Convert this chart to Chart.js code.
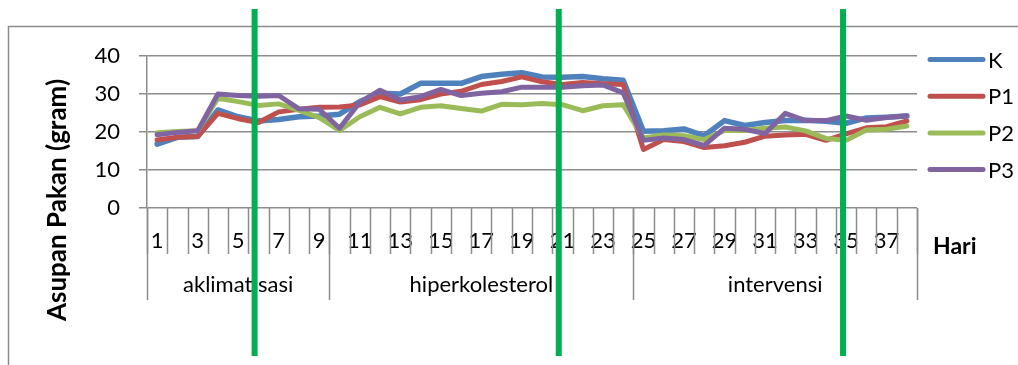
<!DOCTYPE html>
<html>
<head>
<meta charset="utf-8">
<script src="https://cdn.jsdelivr.net/npm/chart.js@4/dist/chart.umd.min.js"></script>
<style>
  html, body { margin: 0; padding: 0; background: #ffffff; }
  canvas { display: block; }
</style>
</head>
<body>
<canvas id="c" width="1018" height="365"></canvas>
<script>
// Days of observation (category axis)
const days = ['1','2','3','4','5','6','7','8','9','10','11','12','13','14','15','16','17','18','19',
              '20','21','22','23','24','25','26','27','28','29','30','31','32','33','34','35','36','37','38'];

// Study phases and how many days each one spans
const phaseNames = ['aklimatisasi', 'hiperkolesterol', 'intervensi'];
const phaseLengths = [9, 15, 14];

// Day positions of the green phase dividers
const dividerDays = [5.81, 20.82, 34.85];

// Feed intake (gram) per group
const seriesNames = ['K', 'P1', 'P2', 'P3'];
const intakeK  = [16.8, 18.6, 18.8, 25.8, 24.0, 22.9, 23.3, 24.0, 24.2, 24.7, 28.0, 30.2, 30.0, 32.8, 32.8, 32.8, 34.6, 35.2, 35.6,
                  34.5, 34.4, 34.6, 34.0, 33.6, 20.2, 20.3, 20.8, 19.0, 23.0, 21.7, 22.5, 23.0, 23.1, 22.8, 22.3, 23.7, 23.9, 24.2];
const intakeP1 = [17.9, 18.6, 18.8, 24.9, 23.5, 22.5, 25.3, 26.0, 26.5, 26.6, 27.1, 29.3, 27.9, 28.5, 30.0, 30.7, 32.5, 33.3, 34.5,
                  33.2, 32.5, 33.0, 32.7, 32.5, 15.4, 18.0, 17.5, 15.9, 16.4, 17.3, 18.9, 19.2, 19.4, 17.8, 19.5, 21.1, 21.4, 22.9];
const intakeP2 = [19.8, 20.1, 20.3, 28.9, 28.0, 27.0, 27.4, 25.7, 23.8, 20.4, 24.0, 26.5, 24.8, 26.5, 26.9, 26.2, 25.5, 27.3, 27.2,
                  27.5, 27.2, 25.6, 26.9, 27.2, 18.4, 19.2, 19.0, 18.0, 20.4, 20.4, 21.0, 21.3, 20.3, 18.3, 17.8, 20.5, 20.7, 21.6];
const intakeP3 = [19.3, 19.9, 20.3, 30.0, 29.6, 29.4, 29.6, 26.1, 26.0, 21.0, 27.8, 31.0, 28.4, 29.3, 31.2, 29.6, 30.2, 30.6, 31.8,
                  31.8, 31.8, 32.2, 32.4, 30.3, 17.8, 18.4, 18.0, 16.5, 21.0, 20.7, 19.6, 24.9, 23.0, 23.0, 24.2, 23.1, 23.8, 24.3];

const yTicks = [0, 10, 20, 30, 40];

const seriesColors = ['#4f81bd', '#c0504d', '#9bbb59', '#8064a2'];
const seriesData = [intakeK, intakeP1, intakeP2, intakeP3];

const FONT = 'Lato, "Open Sans", sans-serif';
const GRID = '#8c8c8c';

const decorations = {
  id: 'decorations',
  beforeDraw(chart) {
    const ctx = chart.ctx;
    ctx.save();
    ctx.strokeStyle = GRID;
    ctx.lineWidth = 1.5;
    ctx.strokeRect(8.5, 26.5, chart.width + 40, chart.height + 40);
    ctx.restore();
  },
  afterDraw(chart) {
    const ctx = chart.ctx;
    const xs = chart.scales.x;
    const area = chart.chartArea;
    const bottom = area.bottom;
    ctx.save();

    // category separators below the axis
    ctx.strokeStyle = GRID;
    ctx.lineWidth = 1.5;
    for (let i = 0; i <= days.length; i++) {
      const x = Math.round(xs.getPixelForValue(i - 0.5)) + 0.5;
      ctx.beginPath();
      ctx.moveTo(x, bottom);
      ctx.lineTo(x, bottom + 46);
      ctx.stroke();
    }
    // phase boundaries and phase names
    let start = 0;
    const bounds = [0];
    phaseLengths.forEach(n => { start += n; bounds.push(start); });
    bounds.forEach(b => {
      const x = Math.round(xs.getPixelForValue(b - 0.5)) + 0.5;
      ctx.beginPath();
      ctx.moveTo(x, bottom);
      ctx.lineTo(x, bottom + 92);
      ctx.stroke();
    });
    ctx.fillStyle = '#000';
    ctx.font = '22px ' + FONT;
    ctx.textAlign = 'center';
    ctx.textBaseline = 'middle';
    phaseNames.forEach((name, k) => {
      const x0 = xs.getPixelForValue(bounds[k] - 0.5);
      const x1 = xs.getPixelForValue(bounds[k + 1] - 0.5);
      ctx.fillText(name, (x0 + x1) / 2, bottom + 77);
    });

    // axis titles
    ctx.font = 'bold 23px ' + FONT;
    ctx.textAlign = 'left';
    ctx.fillText('Hari', area.right + 16, bottom + 39);
    ctx.save();
    ctx.translate(58, 200);
    ctx.rotate(-Math.PI / 2);
    ctx.textAlign = 'center';
    ctx.font = 'bold 26px ' + FONT;
    ctx.fillText('Asupan Pakan (gram)', 0, 0);
    ctx.restore();

    // legend
    ctx.font = '22px ' + FONT;
    ctx.textAlign = 'left';
    ctx.lineCap = 'round';
    chart.data.datasets.forEach((ds, k) => {
      const y = 59.5 + k * 36.7;
      ctx.strokeStyle = ds.borderColor;
      ctx.lineWidth = 5;
      ctx.beginPath();
      ctx.moveTo(area.right + 13, y);
      ctx.lineTo(area.right + 66, y);
      ctx.stroke();
      ctx.fillText(ds.label, area.right + 71, y + 1);
    });

    // green phase dividers
    ctx.strokeStyle = '#00b050';
    ctx.lineWidth = 6;
    ctx.lineCap = 'butt';
    dividerDays.forEach(d => {
      const x = xs.getPixelForValue(d - 1);
      ctx.beginPath();
      ctx.moveTo(x, 9);
      ctx.lineTo(x, 356);
      ctx.stroke();
    });
    ctx.restore();
  }
};

new Chart(document.getElementById('c'), {
  type: 'line',
  data: {
    labels: days,
    datasets: seriesNames.map((name, k) => ({
      label: name,
      data: seriesData[k],
      borderColor: seriesColors[k],
      backgroundColor: seriesColors[k],
      borderWidth: k === 0 ? 5.5 : 5,
      borderJoinStyle: 'round',
      borderCapStyle: 'round',
      pointRadius: 0,
      tension: 0,
      fill: false,
      order: seriesNames.length - k
    }))
  },
  options: {
    responsive: false,
    animation: false,
    devicePixelRatio: 1,
    layout: { padding: { left: 0, top: 56, right: 101, bottom: 0 } },
    plugins: { legend: { display: false }, tooltip: { enabled: false } },
    scales: {
      x: {
        type: 'category',
        offset: true,
        grid: { display: false, drawTicks: false },
        border: { display: false },
        ticks: {
          autoSkip: false,
          maxRotation: 0,
          minRotation: 0,
          padding: 20,
          color: '#000',
          font: { family: FONT, size: 22 },
          callback: (v, i) => (i % 2 === 0 ? days[i] : '')
        },
        afterFit: s => { s.height = 157; }
      },
      y: {
        min: 0,
        max: 40,
        afterBuildTicks: s => { s.ticks = yTicks.map(v => ({ value: v })); },
        grid: { color: GRID, lineWidth: 1.5, tickLength: 8, drawTicks: true },
        border: { display: true, color: GRID, width: 1.5 },
        ticks: {
          padding: 19,
          color: '#000',
          font: { family: FONT, size: 22 }
        },
        afterFit: s => { s.width = 147; }
      }
    }
  },
  plugins: [decorations]
});
</script>
</body>
</html>
